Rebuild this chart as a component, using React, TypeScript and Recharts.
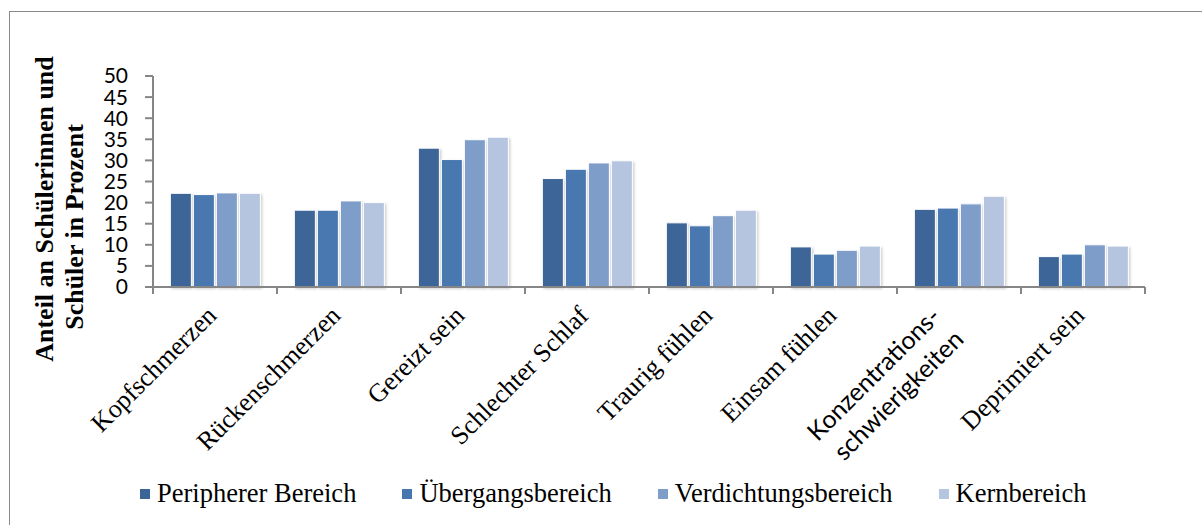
import { BarChart, Bar, XAxis, YAxis, Legend, Label } from "recharts"

const CATEGORIES = [
  "Kopfschmerzen",
  "Rückenschmerzen",
  "Gereizt sein",
  "Schlechter Schlaf",
  "Traurig fühlen",
  "Einsam fühlen",
  "Konzentrations-\nschwierigkeiten",
  "Deprimiert sein",
]
const PERIPHER = [22.2, 18.2, 32.9, 25.7, 15.2, 9.5, 18.4, 7.2]
const UEBERGANG = [21.9, 18.2, 30.2, 27.9, 14.5, 7.8, 18.7, 7.8]
const VERDICHTUNG = [22.3, 20.4, 34.9, 29.4, 16.9, 8.7, 19.7, 10.0]
const KERN = [22.2, 20.0, 35.5, 29.9, 18.2, 9.7, 21.5, 9.7]
const Y_TICKS = [0, 5, 10, 15, 20, 25, 30, 35, 40, 45, 50]

const SERIES = [
  { key: "p", name: "Peripherer Bereich", color: "#3c6597", values: PERIPHER },
  { key: "u", name: "Übergangsbereich", color: "#4877b0", values: UEBERGANG },
  { key: "v", name: "Verdichtungsbereich", color: "#7f9dc9", values: VERDICHTUNG },
  { key: "k", name: "Kernbereich", color: "#b5c4df", values: KERN },
]

const data = CATEGORIES.map((name, i) => {
  const row: Record<string, string | number> = { name }
  SERIES.forEach((s) => (row[s.key] = s.values[i]))
  return row
})

const W = 1202
const H = 525
const PLOT_LEFT = 153
const PLOT_RIGHT = 1145
const PLOT_TOP = 76
const PLOT_BOTTOM = 287
const AXIS_GRAY = "#868686"
const SERIF = "'Liberation Serif', 'Times New Roman', serif"
const SANS = "Lato, 'Open Sans', sans-serif"
const HALF_BAND = (PLOT_RIGHT - PLOT_LEFT) / CATEGORIES.length / 2

function CategoryTick(props: any) {
  const { x, y, payload, index } = props
  const lines = String(payload.value).split("\n")
  const last = index === CATEGORIES.length - 1
  return (
    <g>
      <line x1={x - HALF_BAND} y1={y} x2={x - HALF_BAND} y2={y + 7} stroke={AXIS_GRAY} strokeWidth={2} />
      {last && (
        <line x1={x + HALF_BAND} y1={y} x2={x + HALF_BAND} y2={y + 7} stroke={AXIS_GRAY} strokeWidth={2} />
      )}
      {lines.length === 1 ? (
        <text
          x={x + 3}
          y={y + 30}
          textAnchor="end"
          transform={`rotate(-45 ${x + 3} ${y + 30})`}
          fontFamily={SERIF}
          fontSize={26}
          fill="#000"
        >
          {lines[0]}
        </text>
      ) : (
        lines.map((t, j) => {
          const tx = x - 17 + j * 23
          const ty = y + 31 + j * 23
          return (
            <text
              key={j}
              x={tx}
              y={ty}
              textAnchor="end"
              transform={`rotate(-45 ${tx} ${ty})`}
              fontFamily={SANS}
              fontSize={25}
              fill="#000"
            >
              {t}
            </text>
          )
        })
      )}
    </g>
  )
}

function AxisTitle() {
  return (
    <g fontFamily={SERIF} fontSize={26} fontWeight="bold" fill="#000">
      <text x={53} y={209} textAnchor="middle" transform="rotate(-90 53 209)">
        Anteil an Schülerinnen und
      </text>
      <text x={83} y={227} textAnchor="middle" transform="rotate(-90 83 227)">
        Schüler in Prozent
      </text>
    </g>
  )
}

function LegendContent(props: any) {
  const order = SERIES.map((s) => s.name)
  const items = [...(props.payload || [])].sort(
    (a: any, b: any) => order.indexOf(a.value) - order.indexOf(b.value)
  )
  return (
    <div style={{ display: "flex", alignItems: "center" }}>
      {items.map((item: any) => (
        <div key={item.value} style={{ display: "flex", alignItems: "center", marginRight: 46 }}>
          <span
            style={{
              width: 10,
              height: 10,
              background: item.color,
              display: "inline-block",
              marginRight: 7,
              marginTop: 2,
            }}
          />
          <span style={{ fontFamily: SERIF, fontSize: 26.5, color: "#000", lineHeight: "30px" }}>
            {item.value}
          </span>
        </div>
      ))}
    </div>
  )
}

export default function App() {
  return (
    <div
      style={{
        position: "absolute",
        left: 0,
        top: 0,
        width: W,
        height: H,
        background: "#fff",
        overflow: "hidden",
      }}
    >
      <div
        style={{
          position: "absolute",
          left: 9,
          top: 11,
          width: 1300,
          height: 700,
          border: "1px solid #8a8a8a",
        }}
      />
      <div style={{ position: "absolute", left: 0, top: 0 }}>
        <BarChart
          width={W}
          height={H}
          data={data}
          margin={{ top: PLOT_TOP, left: PLOT_LEFT - 60, right: W - PLOT_RIGHT, bottom: H - PLOT_BOTTOM - 40 }}
          barCategoryGap="14%"
          barGap={2}
        >
          <defs>
            <filter id="barShadow" x="-20%" y="-20%" width="140%" height="140%">
              <feDropShadow dx="1.5" dy="1.5" stdDeviation="1.2" floodColor="#000" floodOpacity="0.18" />
            </filter>
          </defs>
          <XAxis
            dataKey="name"
            height={40}
            interval={0}
            tickLine={false}
            tickSize={0}
            tickMargin={0}
            axisLine={{ stroke: AXIS_GRAY, strokeWidth: 2 }}
            tick={<CategoryTick />}
          />
          <YAxis
            width={60}
            domain={[0, 50]}
            ticks={Y_TICKS}
            interval={0}
            tickSize={8}
            tickMargin={17}
            axisLine={{ stroke: AXIS_GRAY, strokeWidth: 2 }}
            tickLine={{ stroke: AXIS_GRAY, strokeWidth: 2 }}
            tick={{ fontFamily: SANS, fontSize: 21, fill: "#000" }}
          >
            <Label content={<AxisTitle />} />
          </YAxis>
          <Legend
            layout="horizontal"
            verticalAlign="middle"
            content={<LegendContent />}
            wrapperStyle={{ position: "absolute", left: 140, top: 478, width: "auto" }}
          />
          {SERIES.map((s) => (
            <Bar
              key={s.key}
              dataKey={s.key}
              name={s.name}
              fill={s.color}
              stroke="#ffffff"
              strokeWidth={1}
              filter="url(#barShadow)"
              isAnimationActive={false}
            />
          ))}
        </BarChart>
      </div>
    </div>
  )
}
